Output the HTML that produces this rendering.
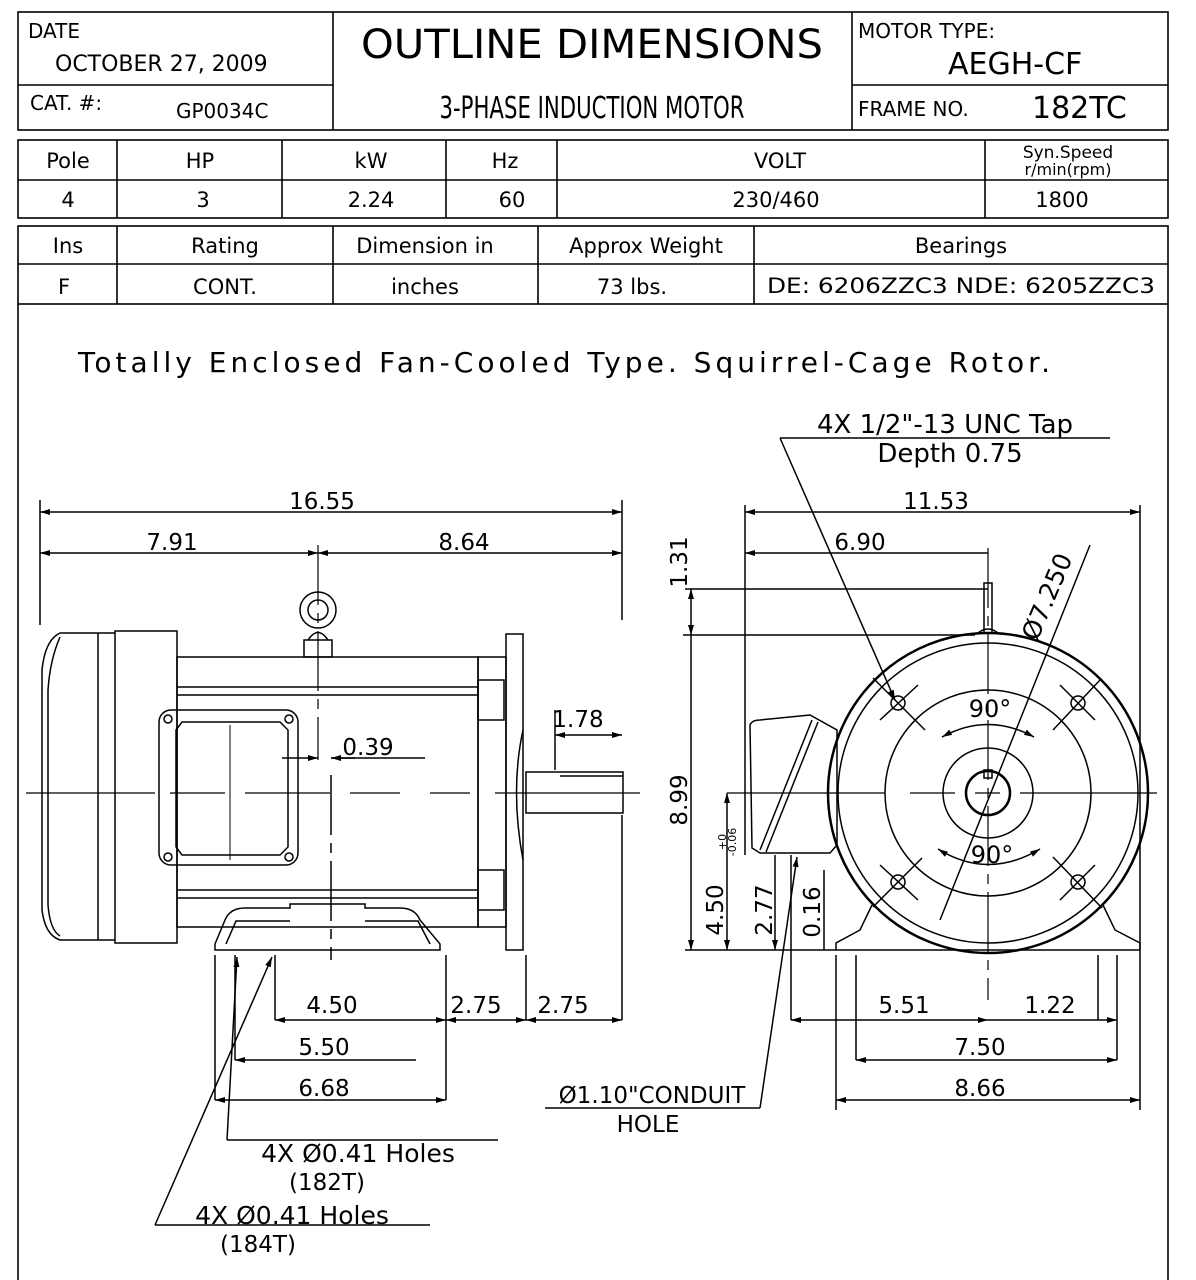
<!DOCTYPE html>
<html><head><meta charset="utf-8"><style>
html,body{margin:0;padding:0;background:#fff}
svg{display:block}
text{font-family:"DejaVu Sans","Liberation Sans",sans-serif;fill:#000}
</style></head><body>
<svg width="1196" height="1280" viewBox="0 0 1196 1280" xmlns="http://www.w3.org/2000/svg">
<defs>
<marker id="a" viewBox="0 0 10 6" refX="10" refY="3" markerWidth="10" markerHeight="6" orient="auto-start-reverse" markerUnits="userSpaceOnUse"><path d="M0 0 L10 3 L0 6 Z" fill="#000"/></marker>
</defs>
<g fill="none" stroke="#000" stroke-width="1.6">
<rect x="18" y="12" width="1150" height="118"/>
<line x1="333" y1="12" x2="333" y2="130"/><line x1="852" y1="12" x2="852" y2="130"/>
<line x1="18" y1="85" x2="333" y2="85"/><line x1="852" y1="85" x2="1168" y2="85"/>
<rect x="18" y="140" width="1150" height="78"/>
<line x1="18" y1="180" x2="1168" y2="180"/>
<line x1="117" y1="140" x2="117" y2="218"/><line x1="282" y1="140" x2="282" y2="218"/>
<line x1="446" y1="140" x2="446" y2="218"/><line x1="557" y1="140" x2="557" y2="218"/>
<line x1="985" y1="140" x2="985" y2="218"/>
<rect x="18" y="226" width="1150" height="78"/>
<line x1="18" y1="264" x2="1168" y2="264"/>
<line x1="117" y1="226" x2="117" y2="304"/><line x1="333" y1="226" x2="333" y2="304"/>
<line x1="538" y1="226" x2="538" y2="304"/><line x1="754" y1="226" x2="754" y2="304"/>
<line x1="18" y1="304" x2="18" y2="1280"/><line x1="1168" y1="304" x2="1168" y2="1280"/>
</g>
<g font-size="20">
<text x="28" y="38">DATE</text>
<text x="55" y="71" font-size="22">OCTOBER 27, 2009</text>
<text x="30" y="110">CAT. #:</text>
<text x="176" y="118">GP0034C</text>
<text x="592" y="58" font-size="40" text-anchor="middle" textLength="462" lengthAdjust="spacingAndGlyphs">OUTLINE DIMENSIONS</text>
<text x="592" y="118" font-size="30" text-anchor="middle" textLength="305" lengthAdjust="spacingAndGlyphs">3-PHASE INDUCTION MOTOR</text>
<text x="858" y="38">MOTOR TYPE:</text>
<text x="948" y="74" font-size="30">AEGH-CF</text>
<text x="858" y="116">FRAME NO.</text>
<text x="1032" y="118" font-size="30">182TC</text>
</g>
<g font-size="21" text-anchor="middle">
<text x="68" y="168">Pole</text><text x="200" y="168">HP</text><text x="371" y="168">kW</text>
<text x="505" y="168">Hz</text><text x="780" y="168">VOLT</text>
<text x="1068" y="158" font-size="17">Syn.Speed</text><text x="1068" y="175" font-size="16">r/min(rpm)</text>
<text x="68" y="207">4</text><text x="203" y="207">3</text><text x="371" y="207">2.24</text>
<text x="512" y="207">60</text><text x="776" y="207">230/460</text><text x="1062" y="207">1800</text>
<text x="68" y="253">Ins</text><text x="225" y="253">Rating</text><text x="425" y="253">Dimension in</text>
<text x="646" y="253">Approx Weight</text><text x="961" y="253">Bearings</text>
<text x="64" y="294">F</text><text x="225" y="294">CONT.</text><text x="425" y="294">inches</text>
<text x="632" y="294">73 lbs.</text>
<text x="961" y="293" textLength="388" lengthAdjust="spacingAndGlyphs">DE: 6206ZZC3 NDE:  6205ZZC3</text>
</g>
<text x="78" y="372" font-size="28" textLength="972" lengthAdjust="spacing">Totally Enclosed Fan-Cooled Type. Squirrel-Cage Rotor.</text>

<!-- LEFT VIEW -->
<g fill="none" stroke="#000" stroke-width="1.5">
<path d="M98 633 H60 Q45 640 42 670 V910 Q45 935 60 940 H98"/>
<path d="M60 637 Q50 660 48 690 V905 Q50 930 60 936"/>
<rect x="115" y="631" width="62" height="312"/>
<line x1="98" y1="633" x2="115" y2="633"/><line x1="98" y1="940" x2="115" y2="940"/>
<line x1="98" y1="633" x2="98" y2="940"/>
<rect x="177" y="657" width="301" height="270"/>
<line x1="177" y1="687" x2="478" y2="687"/><line x1="177" y1="695" x2="478" y2="695"/>
<line x1="177" y1="890" x2="478" y2="890"/><line x1="177" y1="898" x2="478" y2="898"/>
<rect x="478" y="657" width="28" height="270"/>
<rect x="478" y="680" width="26" height="40"/><rect x="478" y="870" width="26" height="40"/>
<rect x="506" y="634" width="17" height="316"/>
<path d="M523 730 Q510 790 523 860"/>
<rect x="526" y="772" width="97" height="41"/>
<line x1="560" y1="776" x2="623" y2="776"/>
<rect x="304" y="640" width="28" height="17"/>
<circle cx="318" cy="610" r="18"/><circle cx="318" cy="610" r="10"/>
<path d="M308 640 Q318 625 328 640"/>
<rect x="159" y="710" width="139" height="155" rx="12"/>
<path d="M176 730 L182 722 H280 L288 730 V847 L280 855 H182 L176 847 Z"/>
<circle cx="168" cy="719" r="4"/><circle cx="289" cy="719" r="4"/><circle cx="168" cy="857" r="4"/><circle cx="289" cy="857" r="4"/>
<path d="M215 950 V944 L225 920 Q230 908 245 908 H290 V904 H365 V908 H400 Q415 908 420 920 L440 944 V950 Z"/>
<path d="M226 944 L236 921 H290"/><path d="M365 921 H418 L430 944"/>
<path d="M26 793 H155 M170 793 H225 M245 793 H330 M350 793 H400 M430 793 H470 M495 793 H640" stroke-width="1.2"/>
<path d="M318 545 V760" stroke-width="1.2" stroke-dasharray="60,8,10,8"/>
<line x1="331" y1="775" x2="331" y2="960" stroke-dasharray="60,8,10,8"/>
<line x1="230" y1="725" x2="230" y2="860" stroke-width="1"/>
<line x1="40" y1="500" x2="40" y2="625"/><line x1="622" y1="500" x2="622" y2="620"/>
<line x1="40" y1="512" x2="622" y2="512" marker-start="url(#a)" marker-end="url(#a)"/>
<line x1="40" y1="553" x2="318" y2="553" marker-start="url(#a)" marker-end="url(#a)"/>
<line x1="318" y1="553" x2="622" y2="553" marker-start="url(#a)" marker-end="url(#a)"/>
<line x1="555" y1="710" x2="555" y2="770"/>
<line x1="555" y1="735" x2="622" y2="735" marker-start="url(#a)" marker-end="url(#a)"/>
<line x1="282" y1="758" x2="318" y2="758" marker-end="url(#a)"/>
<line x1="355" y1="758" x2="331" y2="758" marker-end="url(#a)"/><line x1="331" y1="758" x2="425" y2="758"/>
<path d="M215 955 V1100 M235 955 V1060 M275 955 V1020 M446 955 V1100 M526 955 V1020 M622 815 V1020"/>
<line x1="235" y1="1060" x2="416" y2="1060" marker-start="url(#a)"/>
<line x1="215" y1="1100" x2="446" y2="1100" marker-start="url(#a)" marker-end="url(#a)"/>
<line x1="275" y1="1020" x2="446" y2="1020" marker-start="url(#a)" marker-end="url(#a)"/>
<line x1="446" y1="1020" x2="526" y2="1020" marker-start="url(#a)" marker-end="url(#a)"/>
<line x1="526" y1="1020" x2="622" y2="1020" marker-start="url(#a)" marker-end="url(#a)"/>
<path d="M227 1140 L237 957" marker-end="url(#a)"/><path d="M227 1140 H498"/>
<path d="M155 1225 L272 957" marker-end="url(#a)"/><path d="M155 1225 H430"/>
</g>
<g font-size="23" text-anchor="middle">
<text x="322" y="509">16.55</text><text x="172" y="550">7.91</text><text x="464" y="550">8.64</text>
<text x="578" y="727">1.78</text><text x="368" y="755">0.39</text>
<text x="332" y="1013">4.50</text><text x="476" y="1013">2.75</text><text x="563" y="1013">2.75</text>
<text x="324" y="1055">5.50</text><text x="324" y="1096">6.68</text>
<text x="358" y="1162" font-size="25">4X  Ø0.41 Holes</text>
<text x="327" y="1190">(182T)</text>
<text x="292" y="1224" font-size="25">4X  Ø0.41 Holes</text>
<text x="258" y="1252">(184T)</text>
</g>

<!-- RIGHT VIEW -->
<g fill="none" stroke="#000" stroke-width="1.5">
<circle cx="988" cy="793" r="160" stroke-width="2.5"/>
<circle cx="988" cy="793" r="150"/>
<circle cx="988" cy="793" r="103"/>
<circle cx="988" cy="793" r="45"/>
<circle cx="988" cy="793" r="22" stroke-width="2.5"/>
<rect x="984" y="770" width="8" height="8"/>
<rect x="984" y="583" width="8" height="50"/>
<path d="M978 633 Q988 625 998 633"/>
<circle cx="898" cy="703" r="7"/><circle cx="1078" cy="703" r="7"/>
<circle cx="898" cy="882" r="7"/><circle cx="1078" cy="882" r="7"/>
<path d="M873 678 L925 730 M880 720 L918 685 M1053 730 L1100 680 M1060 685 L1095 720 M873 907 L922 858 M880 865 L918 900 M1053 857 L1102 908 M1060 900 L1095 865"/>
<path d="M942 737 Q988 712 1034 737" marker-start="url(#a)" marker-end="url(#a)"/>
<path d="M938 849 Q988 880 1040 849" marker-start="url(#a)" marker-end="url(#a)"/>
<path d="M836 950 V943 L860 930 L872 905 M1140 950 V943 L1115 930 L1103 905 M836 950 H1140"/>
<path d="M750 725 Q752 720 760 720 L810 715 L837 730 V845 L830 853 H760 L752 848 Z"/>
<path d="M760 850 L812 720 M766 852 L818 722"/>
<path d="M727 793 H885 M910 793 H955 M975 793 H1000 M1020 793 H1157" stroke-width="1.2"/>
<path d="M988 548 V1000" stroke-width="1.2" stroke-dasharray="60,8,10,8"/>
<path d="M1090 545 L940 920" />
<line x1="745" y1="505" x2="745" y2="855"/><line x1="1140" y1="505" x2="1140" y2="1110"/>
<line x1="745" y1="512" x2="1140" y2="512" marker-start="url(#a)" marker-end="url(#a)"/>
<line x1="745" y1="553" x2="988" y2="553" marker-start="url(#a)"/>
<line x1="685" y1="589" x2="988" y2="589"/><line x1="683" y1="635" x2="975" y2="635"/>
<line x1="691" y1="589" x2="691" y2="635" marker-start="url(#a)" marker-end="url(#a)"/>
<line x1="691" y1="635" x2="691" y2="950" marker-end="url(#a)"/>
<line x1="727" y1="793" x2="727" y2="950" marker-start="url(#a)" marker-end="url(#a)"/>
<line x1="775" y1="855" x2="775" y2="950" marker-end="url(#a)"/>
<line x1="791" y1="855" x2="791" y2="1020"/><line x1="824" y1="870" x2="824" y2="950"/>
<line x1="685" y1="950" x2="836" y2="950"/>
<path d="M836 955 V1110 M856 955 V1060 M1098 955 V1020 M1117 955 V1060"/>
<line x1="791" y1="1020" x2="988" y2="1020" marker-start="url(#a)" marker-end="url(#a)"/>
<line x1="988" y1="1020" x2="1117" y2="1020" marker-end="url(#a)"/>
<line x1="856" y1="1060" x2="1117" y2="1060" marker-start="url(#a)" marker-end="url(#a)"/>
<line x1="836" y1="1100" x2="1140" y2="1100" marker-start="url(#a)" marker-end="url(#a)"/>
<path d="M780 438 H1110"/><path d="M780 438 L895 700" marker-end="url(#a)"/>
<path d="M545 1108 H760"/><path d="M760 1108 L797 857" marker-end="url(#a)"/>
</g>
<g font-size="23" text-anchor="middle">
<text x="945" y="433" font-size="26">4X 1/2"-13 UNC Tap</text>
<text x="950" y="462" font-size="26">Depth 0.75</text>
<text x="936" y="509">11.53</text><text x="860" y="550">6.90</text>
<text x="990" y="717" font-size="24">90°</text><text x="992" y="863" font-size="24">90°</text>
<text x="904" y="1013">5.51</text><text x="1050" y="1013">1.22</text>
<text x="980" y="1055">7.50</text><text x="980" y="1096">8.66</text>
<text x="652" y="1103">Ø1.10"CONDUIT</text><text x="648" y="1132">HOLE</text>
<text transform="translate(687,562) rotate(-90)">1.31</text>
<text transform="translate(687,800) rotate(-90)">8.99</text>
<text transform="translate(723,910) rotate(-90)">4.50</text>
<text transform="translate(772,910) rotate(-90)">2.77</text>
<text transform="translate(820,912) rotate(-90)">0.16</text>
<text transform="translate(726,842) rotate(-90)" font-size="11">+0</text>
<text transform="translate(736,842) rotate(-90)" font-size="11">-0.06</text>
<text transform="translate(1055,600) rotate(-67)" font-size="25">Ø7.250</text>
</g>
</svg>
</body></html>
